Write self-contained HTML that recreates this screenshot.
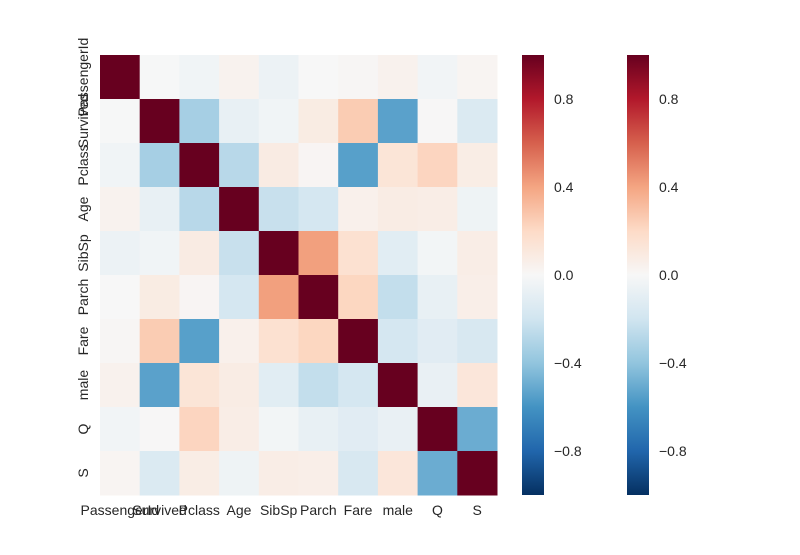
<!DOCTYPE html>
<html><head><meta charset="utf-8"><style>
body{margin:0;background:#fff;}
svg text{font-family:"Liberation Sans",Arial,sans-serif;font-size:14px;fill:#262626;}
</style></head><body>
<svg id="chart" width="800" height="550"></svg>
<script>
const labels=["PassengerId","Survived","Pclass","Age","SibSp","Parch","Fare","male","Q","S"];
const upper=[
[-0.005,-0.035,0.037,-0.058,-0.002,0.013,0.043,-0.034,0.022],
[-0.338,-0.077,-0.035,0.082,0.257,-0.543,0.004,-0.150],
[-0.28,0.083,0.018,-0.549,0.132,0.221,0.074],
[-0.23,-0.18,0.05,0.08,0.07,-0.05],
[0.415,0.160,-0.115,-0.026,0.069],
[0.216,-0.245,-0.081,0.061],
[-0.18,-0.117,-0.163],
[-0.074,0.120],
[-0.500]
];
const cbTicks=[0.8,0.4,0.0,-0.4,-0.8];
const cbTickLabels=["0.8","0.4","0.0","\u22120.4","\u22120.8"];

const stops=["#053061","#2166ac","#4393c3","#92c5de","#d1e5f0","#f7f7f7","#fddbc7","#f4a582","#d6604d","#b2182b","#67001f"];
function hex(h){return [1,3,5].map(i=>parseInt(h.substr(i,2),16));}
function color(v){v=Math.max(-1,Math.min(1,v));const t=(v+1)/2*(stops.length-1);const i=Math.min(stops.length-2,Math.floor(t));const f=t-i;const a=hex(stops[i]),b=hex(stops[i+1]);return "rgb("+a.map((c,k)=>Math.round(c+(b[k]-c)*f)).join(",")+")";}
const n=labels.length;
const M=[];for(let i=0;i<n;i++){M.push([]);for(let j=0;j<n;j++)M[i].push(i===j?1:0);}
for(let i=0;i<upper.length;i++)for(let k=0;k<upper[i].length;k++){const j=i+1+k;M[i][j]=upper[i][k];M[j][i]=upper[i][k];}
const X0=100,X1=497,Y0=55,Y1=495;
const cw=(X1-X0)/n,ch=(Y1-Y0)/n;
const xs=j=>X0+j*cw, ys=i=>Y0+i*ch;
const svg=document.getElementById('chart');const NS="http://www.w3.org/2000/svg";
function el(t,a,p){const e=document.createElementNS(NS,t);for(const k in a)e.setAttribute(k,a[k]);(p||svg).appendChild(e);return e;}
for(let i=0;i<n;i++)for(let j=0;j<n;j++){
 const r=el('rect',{x:xs(j),y:ys(i),width:cw+0.5,height:ch+0.5,fill:color(M[i][j])});
 
 
}
labels.forEach((l,j)=>{
 const t=el('text',{x:xs(j)+cw/2,y:515,'text-anchor':'middle'});t.textContent=l;
 
 
 const cy=ys(j)+ch/2;
 const u=el('text',{x:88,y:cy,'text-anchor':'middle',transform:'rotate(-90 88 '+cy+')'});u.textContent=l;
 
 
});
const defs=el('defs',{});
const g=el('linearGradient',{id:'cbg',x1:0,y1:1,x2:0,y2:0},defs);
stops.forEach((s,i)=>el('stop',{offset:i/(stops.length-1),'stop-color':s},g));
const cbY=v=>Y0+(1-v)/2*(Y1-Y0);
[522,627].forEach((cx,ci)=>{
 const r=el('rect',{x:cx,y:Y0,width:22,height:Y1-Y0,fill:'url(#cbg)'});
 
 
 cbTicks.forEach((v,k)=>{
  const t=el('text',{x:cx+32,y:cbY(v)+5});t.textContent=cbTickLabels[k];
  
  
 });
});
</script>
</body></html>
